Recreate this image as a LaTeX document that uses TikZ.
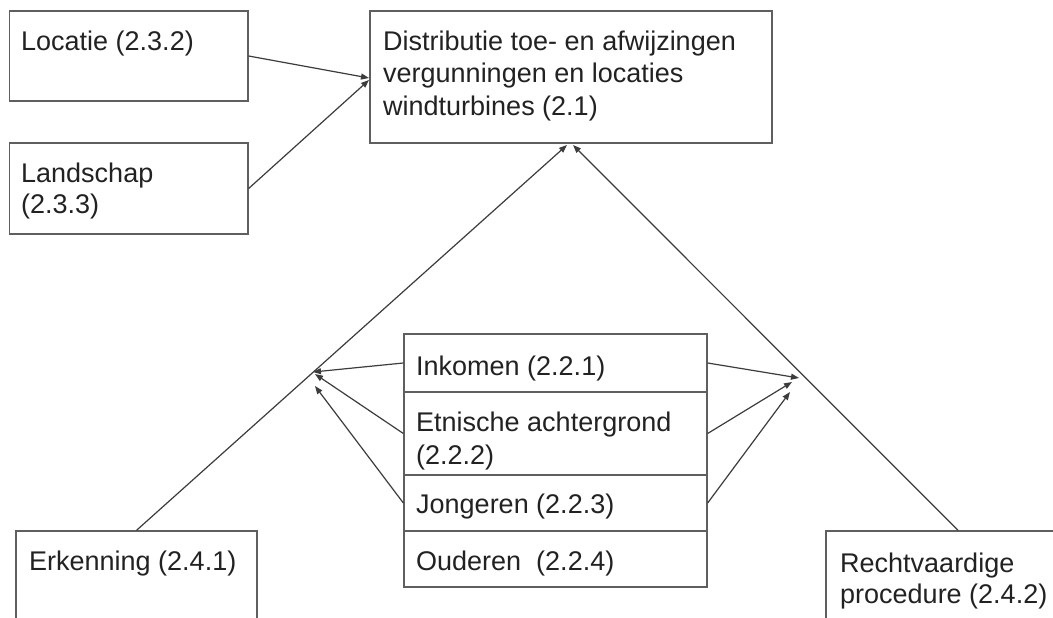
\documentclass[tikz,border=0pt]{standalone}
\usepackage{fontspec}
\setmainfont{Liberation Sans}
\usetikzlibrary{arrows.meta}
\definecolor{boxc}{RGB}{95,95,95}
\definecolor{linec}{RGB}{60,60,60}
\definecolor{txtc}{RGB}{34,34,34}
\begin{document}
\begin{tikzpicture}[x=1pt,y=-1pt,
  box/.style={draw=boxc,line width=1.3pt,rectangle,inner sep=0pt,fill=none},
  txt/.style={anchor=base west,inner sep=0pt,text=txtc,font=\fontsize{27}{32}\selectfont},
  arr/.style={draw=linec,line width=1.2pt,-{Triangle[length=8pt,width=6pt]}}]
\useasboundingbox (0,0) rectangle (1053,618);
\clip (0,0) rectangle (1053,618);
\fill[white] (0,0) rectangle (1053,618);
% boxes
\node[box,minimum width=238.5pt,minimum height=90pt] (loc) at (128.75,56) {};
\node[box,minimum width=238.5pt,minimum height=91pt] (lan) at (128.75,188.5) {};
\node[box,minimum width=402pt,minimum height=132pt] (dis) at (571,77) {};
\node[box,minimum width=303pt,minimum height=58pt] (ink) at (555.5,363) {};
\node[box,minimum width=303pt,minimum height=83pt] (etn) at (555.5,433.5) {};
\node[box,minimum width=303pt,minimum height=56pt] (jon) at (555.5,503) {};
\node[box,minimum width=303pt,minimum height=56pt] (oud) at (555.5,559) {};
\node[box,minimum width=241pt,minimum height=129pt] (erk) at (136.5,595.5) {};
\node[box,minimum width=264pt,minimum height=129pt] (rec) at (958,595.5) {};
% texts
\node[txt] (tloc) at (21,51) {Locatie (2.3.2)};
\node[txt] (tlan1) at (21,182) {Landschap};
\node[txt] (tlan2) at (21,213) {(2.3.3)};
\node[txt] (tdis1) at (383,51) {Distributie toe- en afwijzingen};
\node[txt] (tdis2) at (383,83) {vergunningen en locaties};
\node[txt] (tdis3) at (383,115) {windturbines (2.1)};
\node[txt] (tink) at (416,375) {Inkomen (2.2.1)};
\node[txt] (tetn1) at (416,431) {Etnische achtergrond};
\node[txt] (tetn2) at (416,464) {(2.2.2)};
\node[txt] (tjon) at (416,513) {Jongeren (2.2.3)};
\node[txt] (toud) at (416,570) {Ouderen\ \ (2.2.4)};
\node[txt] (terk) at (29,570) {Erkenning (2.4.1)};
\node[txt] (trec1) at (840,572) {Rechtvaardige};
\node[txt] (trec2) at (840,603) {procedure (2.4.2)};
% connector end points
\coordinate (d1) at (369,78);
\coordinate (d2) at (369,80);
\coordinate (db1) at (567,145);
\coordinate (db2) at (573,145);
\coordinate (jl1) at (313,372);
\coordinate (jl2) at (315,374);
\coordinate (jl3) at (315,386);
\coordinate (jr1) at (799,378);
\coordinate (jr2) at (792,382);
\coordinate (jr3) at (790,392);
% connectors
\draw[arr] (loc.east) -- (d1);
\draw[arr] (lan.east) -- (d2);
\draw[arr] (erk.north) -- (db1);
\draw[arr] (rec.north) -- (db2);
\draw[arr] (ink.west) -- (jl1);
\draw[arr] (etn.west) -- (jl2);
\draw[arr] (jon.west) -- (jl3);
\draw[arr] (ink.east) -- (jr1);
\draw[arr] (etn.east) -- (jr2);
\draw[arr] (jon.east) -- (jr3);
\end{tikzpicture}
\end{document}
